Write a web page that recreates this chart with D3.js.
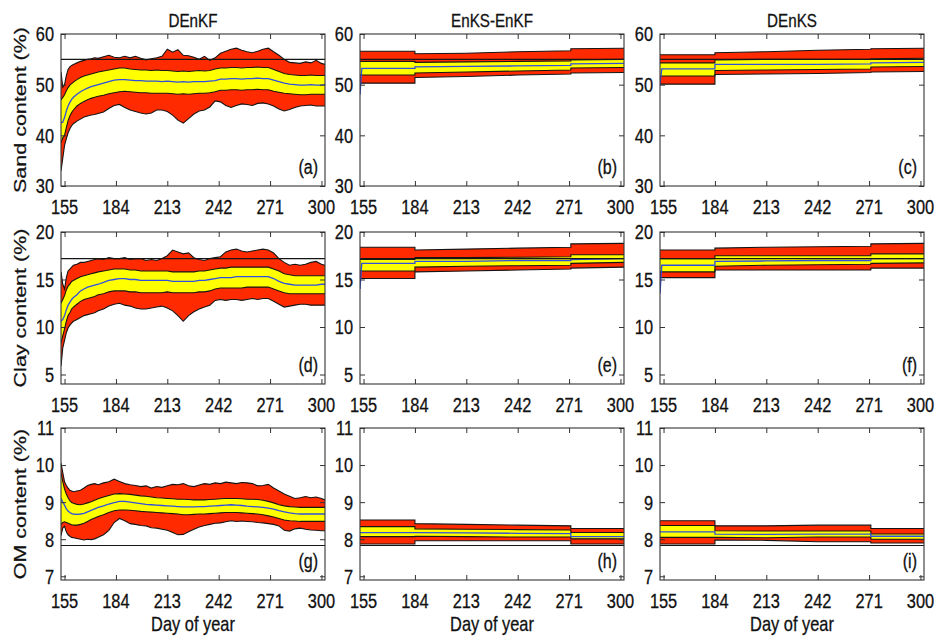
<!DOCTYPE html>
<html>
<head>
<meta charset="utf-8">
<script src="https://cdn.jsdelivr.net/npm/d3@7"></script>
<style>
  body { margin: 0; background: #fff; }
  text { font-family: "Liberation Sans", Arial, sans-serif; fill: #111; stroke: #111; stroke-width: 0.3px; }
</style>
</head>
<body>
<svg id="chart" width="935" height="639"></svg>
<script>
// ---------- Day-of-year sampling for the DEnKF runs ----------
const days = [153,154,155,156,157,158,159,160,
  162,164,166,168,170,172,174,
  177,180,183,186,189,192,195,198,201,204,
  207,210,213,216,219,222,225,228,231,234,
  237,240,243,246,249,252,255,258,261,264,
  267,270,273,276,279,282,285,288,291,294,
  297,300,
  302];

// ---------- Sand, DEnKF ----------
const sandA_redHi = [52.5,49.5,50.0,51.8,53.0,53.5,53.8,54.0,
  54.3,54.6,54.8,55.0,55.1,55.3,55.2,
  55.5,55.8,55.4,55.3,55.6,55.3,55.6,55.2,54.9,55.1,
  55.3,55.6,57.0,56.4,56.9,55.8,55.7,55.4,55.0,55.6,
  54.8,55.3,56.2,56.6,57.0,57.2,56.8,56.5,56.3,56.6,
  57.0,57.2,56.5,55.8,55.0,54.4,54.3,54.2,54.5,54.3,
  54.8,54.2,
  54.0];
const sandA_yelHi = [47.0,47.5,48.0,48.8,49.4,49.9,50.2,50.5,
  51.0,51.4,51.7,51.9,52.1,52.3,52.5,
  52.7,52.9,53.1,53.3,53.3,53.1,53.0,52.9,52.9,52.8,
  52.9,52.8,52.8,52.7,52.6,52.7,52.6,52.7,52.8,52.7,
  52.8,53.1,53.3,53.3,53.4,53.4,53.3,53.4,53.4,53.5,
  53.4,53.4,53.0,52.6,52.2,52.0,51.9,51.8,51.8,51.9,
  51.8,51.8,
  51.8];
const sandA_mean = [42.5,42.6,43.5,44.8,45.8,46.5,47.1,47.5,
  48.1,48.6,49.0,49.3,49.6,49.8,50.0,
  50.3,50.6,50.9,51.0,51.0,50.9,50.8,50.8,50.7,50.7,
  50.7,50.6,50.7,50.6,50.5,50.6,50.5,50.6,50.6,50.6,
  50.7,50.8,51.1,51.1,51.2,51.2,51.1,51.2,51.2,51.3,
  51.2,51.2,50.9,50.6,50.3,50.1,50.0,49.9,49.9,50.0,
  49.9,49.9,
  50.0];
const sandA_yelLo = [38.6,39.5,40.0,41.5,42.9,43.8,44.5,45.0,
  45.8,46.3,46.7,47.0,47.3,47.5,47.7,
  47.9,48.2,48.4,48.6,48.7,48.6,48.5,48.4,48.4,48.3,
  48.3,48.3,48.3,48.2,48.1,48.2,48.1,48.2,48.3,48.3,
  48.4,48.6,48.9,48.9,49.0,49.0,48.9,49.0,49.0,49.1,
  49.0,49.0,48.7,48.5,48.3,48.2,48.1,48.0,48.0,48.1,
  48.1,48.1,
  48.1];
const sandA_redLo = [33.0,35.5,38.0,39.3,40.5,41.3,41.9,42.3,
  42.8,43.2,43.6,43.8,44.0,44.1,44.3,
  44.6,45.3,45.9,46.1,45.5,45.0,44.7,44.4,44.2,44.4,
  45.0,45.0,44.7,44.0,43.0,42.4,43.3,44.2,44.8,45.0,
  45.6,46.8,46.6,45.9,45.5,45.9,46.2,46.1,45.9,46.3,
  46.4,46.2,45.8,45.2,44.8,45.1,45.5,45.8,45.9,46.0,
  45.8,45.8,
  45.8];

// ---------- Clay, DEnKF ----------
const clayD_redHi = [15.8,14.5,14.0,15.2,15.9,16.1,16.3,16.5,
  16.6,16.8,16.8,16.9,17.0,17.1,17.2,
  17.1,17.3,17.2,17.2,17.3,17.1,17.2,17.2,17.0,17.1,
  17.0,17.2,17.5,18.1,17.9,17.7,17.8,17.3,17.1,17.0,
  17.2,17.3,17.4,17.9,18.1,18.2,18.0,17.9,18.0,18.1,
  18.2,18.1,17.8,17.2,16.8,16.5,16.6,16.5,16.6,16.8,
  16.9,16.6,
  16.5];
const clayD_yelHi = [12.5,12.9,13.3,13.9,14.3,14.5,14.8,14.9,
  15.1,15.3,15.4,15.5,15.6,15.7,15.8,
  15.9,16.0,16.1,16.1,16.1,16.0,16.0,15.9,15.9,15.9,
  15.9,15.9,15.9,15.8,15.8,15.8,15.8,15.8,15.9,15.9,
  16.0,16.1,16.2,16.2,16.3,16.3,16.3,16.3,16.3,16.3,
  16.3,16.3,16.1,15.9,15.6,15.5,15.4,15.4,15.4,15.4,
  15.4,15.4,
  15.4];
const clayD_mean = [10.6,10.8,11.2,11.8,12.3,12.6,12.9,13.1,
  13.4,13.8,14.0,14.2,14.3,14.4,14.5,
  14.7,14.9,15.0,15.1,15.1,15.0,15.0,14.9,14.9,14.9,
  14.9,14.9,14.9,14.8,14.8,14.8,14.8,14.8,14.9,14.9,
  15.0,15.1,15.2,15.2,15.2,15.3,15.3,15.3,15.3,15.3,
  15.3,15.3,15.1,14.8,14.6,14.5,14.4,14.4,14.4,14.4,
  14.4,14.5,
  14.5];
const clayD_yelLo = [8.3,9.1,9.8,10.6,11.2,11.5,11.9,12.1,
  12.4,12.7,12.9,13.0,13.1,13.2,13.4,
  13.5,13.7,13.8,13.8,13.8,13.7,13.7,13.6,13.6,13.6,
  13.6,13.6,13.7,13.6,13.6,13.6,13.6,13.6,13.7,13.7,
  13.8,14.0,14.1,14.1,14.1,14.1,14.1,14.2,14.2,14.2,
  14.2,14.2,14.0,13.8,13.6,13.5,13.5,13.5,13.5,13.5,
  13.5,13.5,
  13.5];
const clayD_redLo = [5.9,7.8,8.6,9.4,9.9,10.2,10.4,10.6,
  10.8,11.0,11.2,11.3,11.4,11.5,11.7,
  11.9,12.2,12.4,12.5,12.3,12.2,12.0,11.9,11.9,12.0,
  12.1,12.2,12.0,11.7,11.2,10.6,11.2,11.6,11.9,12.1,
  12.3,12.8,12.9,12.8,12.9,12.9,12.8,12.9,13.0,12.9,
  13.0,13.0,12.7,12.4,12.1,12.2,12.3,12.4,12.4,12.3,
  12.3,12.3,
  12.3];

// ---------- OM, DEnKF ----------
const omG_redHi = [10.05,9.8,9.55,9.45,9.38,9.32,9.3,9.28,
  9.3,9.32,9.38,9.45,9.48,9.5,9.47,
  9.52,9.55,9.62,9.56,9.5,9.47,9.45,9.42,9.44,9.38,
  9.42,9.4,9.44,9.48,9.47,9.5,9.44,9.42,9.46,9.5,
  9.48,9.52,9.5,9.54,9.52,9.5,9.53,9.52,9.5,9.44,
  9.45,9.48,9.38,9.3,9.22,9.16,9.1,9.12,9.15,9.12,
  9.14,9.1,
  9.06];
const omG_yelHi = [9.8,9.55,9.35,9.22,9.12,9.04,8.99,8.97,
  8.94,8.93,8.95,8.98,9.01,9.05,9.09,
  9.14,9.18,9.22,9.23,9.22,9.21,9.19,9.17,9.16,9.14,
  9.12,9.11,9.1,9.09,9.08,9.08,9.07,9.06,9.06,9.06,
  9.07,9.08,9.09,9.1,9.1,9.1,9.09,9.08,9.08,9.07,
  9.05,9.02,8.98,8.93,8.9,8.88,8.87,8.86,8.86,8.86,
  8.86,8.86,
  8.86];
const omG_mean = [9.1,9.0,8.92,8.82,8.76,8.72,8.69,8.68,
  8.67,8.68,8.7,8.74,8.78,8.82,8.86,
  8.9,8.95,8.99,9.02,9.02,9.0,8.98,8.96,8.94,8.93,
  8.92,8.91,8.9,8.89,8.88,8.87,8.87,8.87,8.88,8.88,
  8.89,8.9,8.91,8.92,8.93,8.92,8.91,8.89,8.88,8.87,
  8.86,8.84,8.81,8.77,8.74,8.71,8.69,8.68,8.68,8.68,
  8.68,8.68,
  8.68];
const omG_yelLo = [8.4,8.45,8.47,8.45,8.43,8.41,8.39,8.38,
  8.38,8.4,8.43,8.48,8.53,8.57,8.61,
  8.66,8.72,8.77,8.79,8.79,8.78,8.77,8.75,8.74,8.73,
  8.72,8.71,8.7,8.69,8.68,8.66,8.66,8.67,8.68,8.68,
  8.69,8.7,8.71,8.72,8.72,8.72,8.71,8.7,8.69,8.68,
  8.66,8.63,8.6,8.56,8.52,8.5,8.49,8.48,8.48,8.48,
  8.48,8.48,
  8.48];
const omG_redLo = [8.1,8.3,8.35,8.2,8.12,8.08,8.05,8.04,
  8.02,8.0,7.98,8.0,7.99,8.01,8.05,
  8.12,8.24,8.45,8.56,8.5,8.42,8.4,8.37,8.36,8.31,
  8.3,8.27,8.24,8.18,8.12,8.13,8.2,8.27,8.33,8.37,
  8.4,8.43,8.44,8.47,8.5,8.48,8.49,8.48,8.47,8.45,
  8.44,8.42,8.4,8.36,8.24,8.22,8.28,8.3,8.27,8.25,
  8.24,8.23,
  8.23];

// ---------- Smoother runs: values between the update windows ----------
const stepDays = [153, 154, 184, 184, 213, 242, 272, 272, 302];

const sandB_redHi = [56.6, 56.6, 56.6, 56.1, 56.2, 56.5, 56.7, 57.1, 57.2];
const sandB_yelHi = [54.6, 54.6, 54.6, 54.4, 54.5, 54.6, 54.7, 54.9, 55.0];
const sandB_mean  = [48.0, 53.2, 53.2, 53.5, 53.6, 53.7, 53.8, 54.1, 54.2];
const sandB_yelLo = [51.9, 51.9, 51.9, 52.3, 52.5, 52.7, 52.9, 53.3, 53.4];
const sandB_redLo = [50.3, 50.3, 50.3, 51.4, 51.6, 51.9, 52.1, 52.3, 52.4];

const sandC_redHi = [55.9, 55.9, 55.9, 56.3, 56.5, 56.8, 57.0, 57.1, 57.2];
const sandC_yelHi = [54.3, 54.3, 54.3, 54.9, 55.0, 55.0, 55.0, 55.1, 55.2];
const sandC_mean  = [50.0, 53.1, 53.1, 54.0, 54.0, 54.0, 54.1, 54.3, 54.4];
const sandC_yelLo = [51.7, 51.7, 51.7, 52.8, 52.9, 53.0, 53.1, 53.5, 53.6];
const sandC_redLo = [50.1, 50.1, 50.1, 52.0, 52.1, 52.2, 52.4, 52.5, 52.6];

const clayE_redHi = [18.4, 18.4, 18.4, 18.1, 18.2, 18.3, 18.4, 18.75, 18.8];
const clayE_yelHi = [17.1, 17.1, 17.1, 17.3, 17.3, 17.35, 17.4, 17.6, 17.6];
const clayE_mean  = [14.0, 16.7, 16.7, 16.9, 16.9, 17.0, 17.0, 17.1, 17.2];
const clayE_yelLo = [15.9, 15.9, 15.9, 16.3, 16.4, 16.45, 16.5, 16.7, 16.8];
const clayE_redLo = [15.1, 15.1, 15.1, 15.8, 15.9, 16.0, 16.1, 16.2, 16.3];

const clayF_redHi = [18.1, 18.1, 18.1, 18.3, 18.4, 18.45, 18.5, 18.75, 18.8];
const clayF_yelHi = [17.2, 17.2, 17.2, 17.5, 17.5, 17.5, 17.5, 17.7, 17.7];
const clayF_mean  = [13.5, 16.5, 16.5, 16.9, 16.95, 17.0, 17.0, 17.2, 17.2];
const clayF_yelLo = [15.8, 15.8, 15.8, 16.4, 16.5, 16.55, 16.6, 16.7, 16.75];
const clayF_redLo = [15.2, 15.2, 15.2, 16.0, 16.0, 16.0, 16.0, 16.2, 16.2];

const omH_redHi = [8.52, 8.52, 8.52, 8.42, 8.40, 8.38, 8.36, 8.29, 8.29];
const omH_yelHi = [8.34, 8.34, 8.34, 8.28, 8.27, 8.26, 8.25, 8.18, 8.18];
const omH_mean  = [8.18, 8.18, 8.18, 8.18, 8.17, 8.16, 8.15, 8.07, 8.07];
const omH_yelLo = [8.07, 8.07, 8.07, 8.08, 8.07, 8.06, 8.06, 8.01, 8.01];
const omH_redLo = [7.87, 7.87, 7.87, 7.96, 7.96, 7.96, 7.96, 7.87, 7.87];

const omI_redHi = [8.50, 8.50, 8.50, 8.36, 8.36, 8.38, 8.38, 8.29, 8.29];
const omI_yelHi = [8.37, 8.37, 8.37, 8.23, 8.22, 8.22, 8.22, 8.14, 8.14];
const omI_mean  = [8.20, 8.20, 8.20, 8.14, 8.13, 8.14, 8.14, 8.08, 8.08];
const omI_yelLo = [8.05, 8.05, 8.05, 8.05, 8.04, 8.06, 8.06, 8.00, 8.00];
const omI_redLo = [7.87, 7.87, 7.87, 7.98, 7.97, 7.93, 7.93, 7.90, 7.90];

// ---------- True parameter values ----------
const sandTrue = 55;
const clayTrue = 17.2;
const omTrue = 7.83;

// ---------- Axis labels and ticks ----------
const methodTitles = ["DEnKF", "EnKS-EnKF", "DEnKS"];
const rowLabels = ["Sand content (%)", "Clay content (%)", "OM content (%)"];
const xTickValues = [155, 184, 213, 242, 271, 300];
const sandTicks = [30, 40, 50, 60];
const clayTicks = [5, 10, 15, 20];
const omTicks = [7, 8, 9, 10, 11];
const panelTags = ["(a)","(b)","(c)","(d)","(e)","(f)","(g)","(h)","(i)"];
const xLabel = "Day of year";

// ---------- Layout ----------
const SX = 0.8;               // horizontal squeeze applied to all text
const colX = [61, 360, 660];
const rowY = [34, 232, 428];
const W = 264, H = 152;
const xDomain = [153, 302];
const RED = "#ff2a00", YELLOW = "#ffff00", BLUE = "#2f4fe0", EDGE = "#151515", FRAME = "#333";

const rows = [
  { domain: [30, 60], ticks: sandTicks, truth: sandTrue },
  { domain: [4, 20], ticks: clayTicks, truth: clayTrue },
  { domain: [6.9, 11], ticks: omTicks, truth: omTrue }
];

const panels = [
  { r: 0, c: 0, x: days, hi: sandA_redHi, yh: sandA_yelHi, m: sandA_mean, yl: sandA_yelLo, lo: sandA_redLo },
  { r: 0, c: 1, x: stepDays, hi: sandB_redHi, yh: sandB_yelHi, m: sandB_mean, yl: sandB_yelLo, lo: sandB_redLo },
  { r: 0, c: 2, x: stepDays, hi: sandC_redHi, yh: sandC_yelHi, m: sandC_mean, yl: sandC_yelLo, lo: sandC_redLo },
  { r: 1, c: 0, x: days, hi: clayD_redHi, yh: clayD_yelHi, m: clayD_mean, yl: clayD_yelLo, lo: clayD_redLo },
  { r: 1, c: 1, x: stepDays, hi: clayE_redHi, yh: clayE_yelHi, m: clayE_mean, yl: clayE_yelLo, lo: clayE_redLo },
  { r: 1, c: 2, x: stepDays, hi: clayF_redHi, yh: clayF_yelHi, m: clayF_mean, yl: clayF_yelLo, lo: clayF_redLo },
  { r: 2, c: 0, x: days, hi: omG_redHi, yh: omG_yelHi, m: omG_mean, yl: omG_yelLo, lo: omG_redLo },
  { r: 2, c: 1, x: stepDays, hi: omH_redHi, yh: omH_yelHi, m: omH_mean, yl: omH_yelLo, lo: omH_redLo },
  { r: 2, c: 2, x: stepDays, hi: omI_redHi, yh: omI_yelHi, m: omI_mean, yl: omI_yelLo, lo: omI_redLo }
];

const svg = d3.select("#chart");

function label(parent, x, y, str, o = {}) {
  return parent.append("text")
    .attr("transform", `translate(${x},${y}) scale(${SX},1)` + (o.rot ? " rotate(-90)" : ""))
    .attr("text-anchor", o.anchor || "middle")
    .attr("dy", o.dy || 0)
    .attr("font-size", o.size || 20)
    .text(str);
}

panels.forEach((p, k) => {
  const row = rows[p.r];
  const g = svg.append("g").attr("transform", `translate(${colX[p.c]},${rowY[p.r]})`);
  const x = d3.scaleLinear().domain(xDomain).range([0, W]);
  const y = d3.scaleLinear().domain(row.domain).range([H, 0]);

  const clipId = "clip" + k;
  g.append("clipPath").attr("id", clipId)
    .append("rect").attr("width", W).attr("height", H);
  const plot = g.append("g").attr("clip-path", `url(#${clipId})`);

  const pts = p.x.map((d, i) => ({ d, hi: p.hi[i], yh: p.yh[i], m: p.m[i], yl: p.yl[i], lo: p.lo[i] }));

  const band = (a, b) => d3.area().x(d => x(d.d)).y0(d => y(d[a])).y1(d => y(d[b]));
  const edge = key => d3.line().x(d => x(d.d)).y(d => y(d[key]));

  // outer ensemble spread
  plot.append("path").datum(pts).attr("d", band("lo", "hi")).attr("fill", RED);
  // inner spread
  plot.append("path").datum(pts).attr("d", band("yl", "yh")).attr("fill", YELLOW);
  ["hi", "lo", "yh", "yl"].forEach(key => {
    plot.append("path").datum(pts).attr("d", edge(key))
      .attr("fill", "none").attr("stroke", EDGE).attr("stroke-width", 1.1);
  });
  // ensemble mean
  plot.append("path").datum(pts).attr("d", edge("m"))
    .attr("fill", "none").attr("stroke", BLUE).attr("stroke-width", 1.3);
  // true value
  plot.append("line")
    .attr("x1", x(xDomain[0])).attr("x2", x(xDomain[1]))
    .attr("y1", y(row.truth)).attr("y2", y(row.truth))
    .attr("stroke", EDGE).attr("stroke-width", 1.2);

  // inward ticks on all four sides
  const styleAxis = s => {
    s.select(".domain").remove();
    s.selectAll(".tick line").attr("stroke", FRAME);
  };
  g.append("g").call(d3.axisLeft(y).tickValues(row.ticks).tickSize(-5).tickFormat("")).call(styleAxis);
  g.append("g").attr("transform", `translate(${W},0)`)
    .call(d3.axisRight(y).tickValues(row.ticks).tickSize(-5).tickFormat("")).call(styleAxis);
  g.append("g").attr("transform", `translate(0,${H})`)
    .call(d3.axisBottom(x).tickValues(xTickValues).tickSize(-5).tickFormat("")).call(styleAxis);
  g.append("g")
    .call(d3.axisTop(x).tickValues(xTickValues).tickSize(-5).tickFormat("")).call(styleAxis);

  g.append("rect").attr("width", W).attr("height", H)
    .attr("fill", "none").attr("stroke", FRAME).attr("stroke-width", 1.1);

  // tick labels
  row.ticks.forEach(t => label(g, -7, y(t), String(t), { anchor: "end", dy: "0.36em", size: 20.5 }));
  xTickValues.forEach(t => label(g, x(t), H + 28, String(t), { size: 20.5 }));

  // panel tag
  label(g, W - 7, H - 12, panelTags[k], { anchor: "end", size: 20 });

  if (p.r === 0) label(svg, colX[p.c] + W / 2, 27, methodTitles[p.c], { size: 19 });
  if (p.r === 2) label(svg, colX[p.c] + W / 2, 631, xLabel, { size: 20.5 });
  if (p.c === 0) label(svg, 26, rowY[p.r] + H / 2, rowLabels[p.r], { rot: true, size: 21.5 });
});
</script>
</body>
</html>
